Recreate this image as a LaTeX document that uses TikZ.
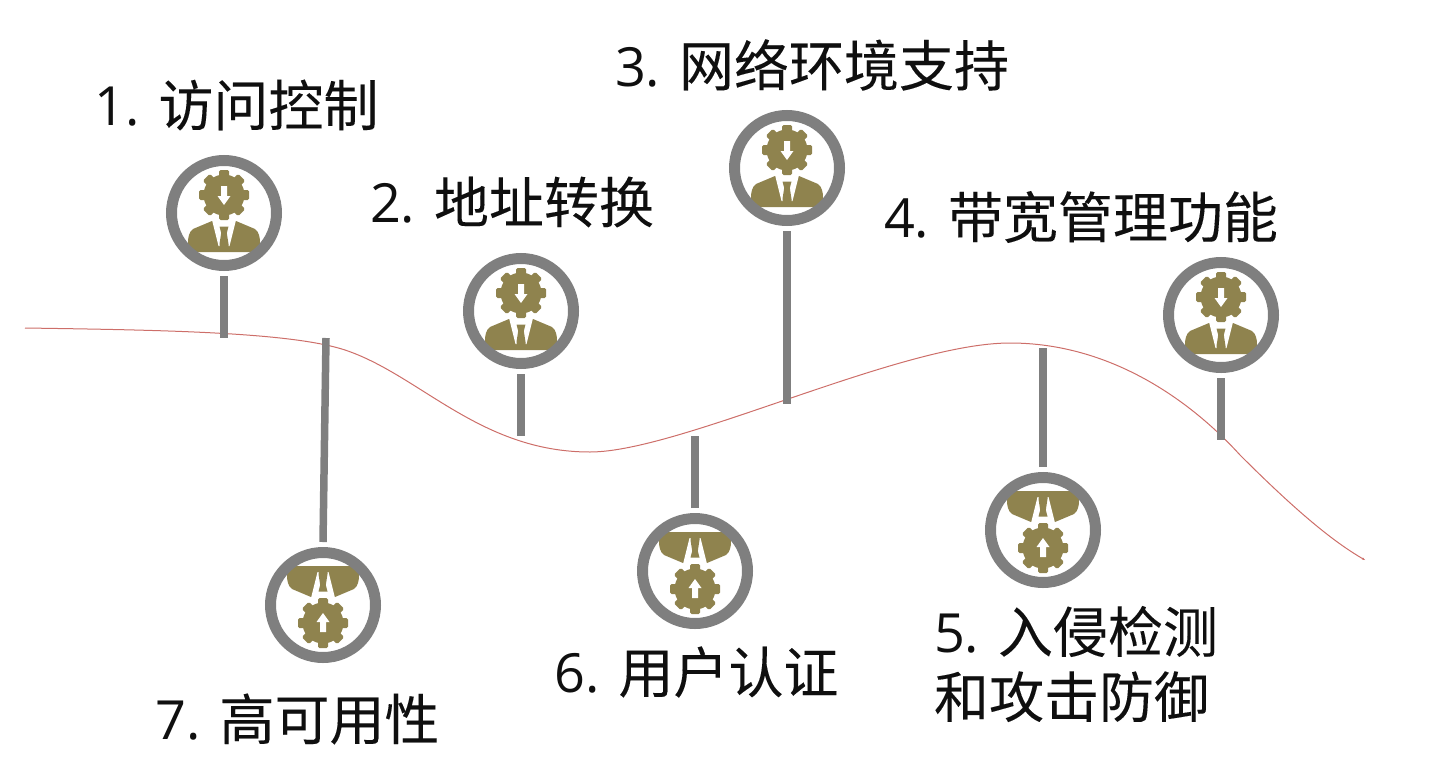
\documentclass[tikz,border=0pt]{standalone}
\usepackage{fontspec}
\setmainfont{Open Sans}
\newfontfamily\cjk[FakeBold=0.12]{Noto Sans CJK SC}
\newcommand{\zh}[1]{{\fontsize{55}{65}\selectfont\cjk #1}}
\usepackage{xcolor}
\usetikzlibrary{arrows.meta}
\definecolor{StaffOlive}{RGB}{143,131,78}
\definecolor{RingGray}{RGB}{127,127,127}
\definecolor{RoadRed}{RGB}{205,110,105}
\definecolor{LabelInk}{RGB}{15,15,15}

\begin{document}
\begin{tikzpicture}[
          x=1pt, y=-1pt,
          ring/.style={circle, draw=RingGray, line width=11pt, inner sep=0pt,
                       minimum size=105pt, outer sep=10.5pt},
          stem/.style={draw=RingGray, line width=7.5pt},
          road/.style={draw=RoadRed, line width=1pt, -{Stealth[length=3pt]}},
          lbl/.style={font=\fontsize{54}{65}\selectfont, text=LabelInk,
                      align=left, inner sep=0pt},
          staff/.pic={
            % suit
            \fill[StaffOlive] (-12,8) -- (-31,16) .. controls (-35,19) and (-36,24) .. (-36,30)
                  -- (-36,39) -- (36,39) -- (36,30) .. controls (36,24) and (35,19) .. (31,16)
                  -- (12,8) -- cycle;
            \fill[white] (-12,7) -- (12,7) -- (5.5,33) -- (-5.5,33) -- cycle;
            \fill[StaffOlive] (-4.5,13.5) -- (4.5,13.5) -- (2.8,20) -- (4.5,31) -- (4.5,34)
                  -- (-4.5,34) -- (-4.5,31) -- (-2.8,20) -- cycle;
            % gear
            \fill[StaffOlive] (0,-18) circle (20.5);
            \foreach \a in {0,45,...,315} {
              \fill[StaffOlive, rounded corners=1.5pt, shift={(0,-18)}, rotate=\a]
                    (-5,-15) rectangle (5,-25);
            }
            \fill[white] (-3,-27) -- (3,-27) -- (3,-17) -- (6.5,-17) -- (0,-8)
                  -- (-6.5,-17) -- (-3,-17) -- cycle;
          }
        ]
        \useasboundingbox (0,0) rectangle (1453,771);

        % Curve under the stems
        \draw[road] (25,328) .. controls (160,330) and (290,332) .. (345,350)
              .. controls (420,375) and (480,452) .. (590,452)
              .. controls (680,452) and (900,343) .. (1010,343)
              .. controls (1110,343) and (1190,400) .. (1240,455)
              .. controls (1290,505) and (1330,540) .. (1365,560);

        % Icons above the curve
        \foreach \i/\x/\y/\e in {1/224/213/338, 2/521/311/436, 3/787/168/404, 4/1221/315/440} {
          \pic at (\x,\y) {staff};
          \node[ring] (p\i) at (\x,\y) {};
          \coordinate (c\i) at (\x,\e);
          \draw[stem] (p\i.south)--(c\i);
        }

        % Icons below the curve
        \foreach \i/\x/\y/\e/\s in {5/1043/530/348/1043, 6/695/571/436/695, 7/323/605/338/326} {
          \pic[yscale=-1] at (\x,\y) {staff};
          \node[ring] (p\i) at (\x,\y) {};
          \coordinate (c\i) at (\s,\e);
          \draw[stem] (p\i.north)--(c\i);
        }

        % Labels
        \node[lbl] (t1) at (236.5,105) {1. \zh{访问控制}};
        \node[lbl] (t2) at (512,202) {2. \zh{地址转换}};
        \node[lbl] (t3) at (812,65) {3. \zh{网络环境支持}};
        \node[lbl] (t4) at (1081,217) {4. \zh{带宽管理功能}};
        \node[lbl] (t5) at (1076,664) {5. \zh{入侵检测}\\\zh{和攻击防御}};
        \node[lbl] (t6) at (696.5,672) {6. \zh{用户认证}};
        \node[lbl] (t7) at (297.5,719) {7. \zh{高可用性}};
      \end{tikzpicture}
\end{document}
